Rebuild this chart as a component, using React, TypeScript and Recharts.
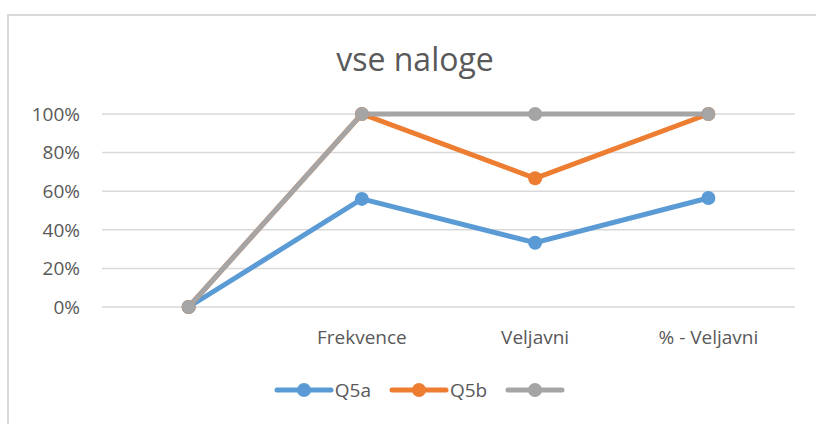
import { LineChart, Line, XAxis, YAxis, CartesianGrid, Legend } from "recharts"

const categories = ["", "Frekvence", "Veljavni", "% - Veljavni"]
const q5a = [0, 0.56, 0.333, 0.565]
const q5b = [0, 1, 0.667, 1]
const third = [0, 1, 1, 1]
const yTicks = [0, 0.2, 0.4, 0.6, 0.8, 1]

const series = [
  { key: "q5a", name: "Q5a", color: "#5B9BD5" },
  { key: "q5b", name: "Q5b", color: "#ED7D31" },
  { key: "third", name: "", color: "#A5A5A5" },
]

const data = categories.map((name, i) => ({
  name,
  q5a: q5a[i],
  q5b: q5b[i],
  third: third[i],
}))

const font = "'Open Sans', sans-serif"

function LegendContent() {
  return (
    <div style={{ display: "flex", justifyContent: "center", alignItems: "center", height: 30, paddingLeft: 44, fontFamily: font, fontSize: 19, color: "#595959" }}>
      {series.map((s, i) => (
        <div key={s.key} style={{ display: "flex", alignItems: "center", marginRight: i < series.length - 1 ? 18 : 0 }}>
          <svg width={60} height={16}>
            <line x1={3} y1={8} x2={57} y2={8} stroke={s.color} strokeWidth={5} strokeLinecap="round" />
            <circle cx={30} cy={8} r={7} fill={s.color} />
          </svg>
          {s.name && <span style={{ marginLeft: 1 }}>{s.name}</span>}
        </div>
      ))}
    </div>
  )
}

export default function App() {
  return (
    <div style={{ position: "absolute", left: 0, top: 0, width: 816, height: 424, background: "#fff", overflow: "hidden" }}>
      <div style={{ position: "absolute", left: 7, top: 14, width: 830, height: 430, border: "2px solid #D9D9D9" }} />
      <div style={{ position: "absolute", left: 0, width: 830, top: 37, textAlign: "center", fontFamily: font, fontSize: 32, color: "#595959" }}>
        vse naloge
      </div>
      <div style={{ position: "absolute", left: 0, top: 0 }}>
        <LineChart width={816} height={424} data={data} margin={{ top: 114, right: 21, bottom: 19, left: 0 }}>
          <CartesianGrid vertical={false} stroke="#D9D9D9" strokeWidth={1.5} />
          <XAxis
            dataKey="name"
            scale="band"
            axisLine={false}
            tickLine={false}
            height={68}
            tickMargin={18}
            interval={0}
            tick={{ fontSize: 19, fill: "#595959", fontFamily: font }}
          />
          <YAxis
            width={102}
            domain={[0, 1]}
            ticks={yTicks}
            axisLine={false}
            tickLine={false}
            tickMargin={16}
            tickFormatter={(v: number) => `${Math.round(v * 100)}%`}
            tick={{ fontSize: 19, fill: "#595959", fontFamily: font }}
          />
          <Legend verticalAlign="bottom" content={<LegendContent />} />
          {series.map((s) => (
            <Line
              key={s.key}
              dataKey={s.key}
              name={s.name}
              stroke={s.color}
              strokeWidth={5}
              dot={{ r: 7, fill: s.color, stroke: s.color, strokeWidth: 0 }}
              activeDot={false}
              isAnimationActive={false}
            />
          ))}
        </LineChart>
      </div>
    </div>
  )
}
